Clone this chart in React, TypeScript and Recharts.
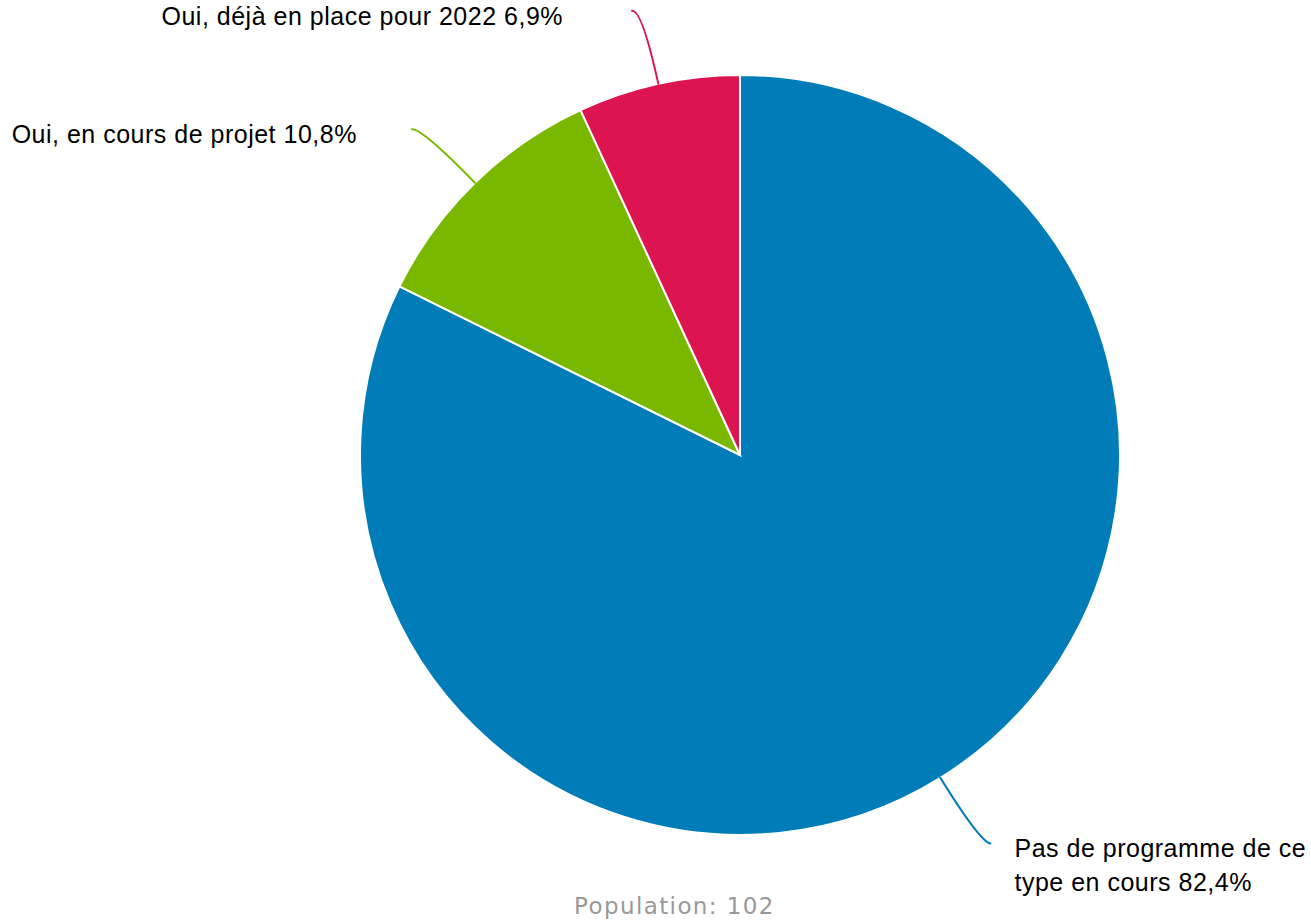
import React from 'react';
import { PieChart, Pie, Cell } from 'recharts';

// Réponses au sondage
const categories = [
  'Pas de programme de ce type en cours',
  'Oui, en cours de projet',
  'Oui, déjà en place pour 2022',
];
const shares = [82.4, 10.8, 6.9];
const colors = ['#007DB9', '#7AB800', '#DC1551'];
const population = 102;

const W = 1311;
const H = 920;
const FONT = 25;
const RAD = Math.PI / 180;

const data = categories.map((name, i) => ({ name, value: shares[i] }));

const fmt = (v: number) => v.toFixed(1).replace('.', ',') + '%';

// découpage simple du texte en lignes selon la place disponible
const wrap = (text: string, maxWidth: number) => {
  const words = text.split(' ');
  const lines: string[] = [];
  let cur = '';
  words.forEach(w => {
    const next = cur ? cur + ' ' + w : w;
    if (next.length * FONT * 0.47 > maxWidth && cur) {
      lines.push(cur);
      cur = w;
    } else {
      cur = next;
    }
  });
  if (cur) lines.push(cur);
  return lines;
};

// écart horizontal entre la fin du connecteur et le texte
const labelGap = [24, 55, 69];

const renderLabel = (props: any) => {
  const { cx, cy, midAngle, outerRadius, index, fill } = props;
  const cos = Math.cos(-midAngle * RAD);
  const sin = Math.sin(-midAngle * RAD);
  const sx = cx + outerRadius * cos;
  const sy = cy + outerRadius * sin;
  const mx = cx + (outerRadius + 76) * cos;
  const my = cy + (outerRadius + 76) * sin;
  const right = cos >= 0;
  const ex = mx + (right ? 10 : -10);
  const ey = my + 1;
  const tx = ex + (right ? labelGap[index] : -labelGap[index]);
  const text = `${categories[index]} ${fmt(shares[index])}`;
  const avail = right ? W - tx - 5 : tx - 5;
  const lines = wrap(text, avail);
  return (
    <g key={`lbl-${index}`}>
      <path
        d={`M${sx},${sy} Q${mx},${my} ${ex},${ey}`}
        stroke={fill}
        strokeWidth={2}
        strokeLinecap="round"
        fill="none"
      />
      <text
        x={tx}
        y={ey + 7}
        textAnchor={right ? 'start' : 'end'}
        dominantBaseline="middle"
        fontFamily="'Liberation Sans', Arial, sans-serif"
        fontSize={FONT}
        letterSpacing={0.5}
        fill="#000"
      >
        {lines.map((l, i) => (
          <tspan key={i} x={tx} dy={i === 0 ? 0 : 34}>
            {l}
          </tspan>
        ))}
      </text>
    </g>
  );
};

export default function App() {
  return (
    <div style={{ position: 'absolute', left: 0, top: 0, width: W, height: H, background: '#fff' }}>
      <PieChart width={W} height={H} margin={{ top: 0, right: 0, bottom: 0, left: 0 }}>
        <Pie
          data={data}
          dataKey="value"
          nameKey="name"
          cx={740}
          cy={455}
          outerRadius={380}
          startAngle={90}
          endAngle={-270}
          stroke="#fff"
          strokeWidth={2}
          label={renderLabel}
          labelLine={false}
          isAnimationActive={false}
        >
          {data.map((d, i) => (
            <Cell key={d.name} fill={colors[i]} />
          ))}
        </Pie>
      </PieChart>
      <div
        style={{
          position: 'absolute',
          left: 574,
          top: 893,
          fontFamily: "'DejaVu Sans', sans-serif",
          fontSize: 23,
          letterSpacing: 1.4,
          color: '#999',
          whiteSpace: 'nowrap',
        }}
      >
        Population: {population}
      </div>
    </div>
  );
}
